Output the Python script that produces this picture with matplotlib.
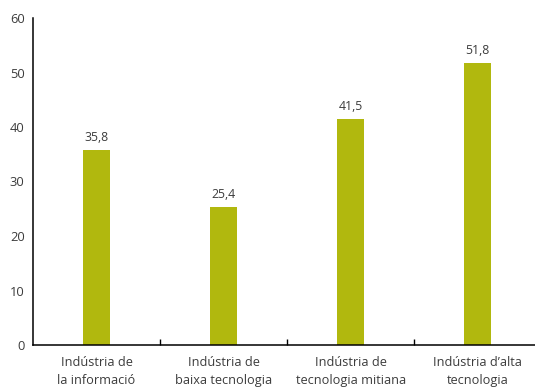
import matplotlib

matplotlib.use('Agg')
import matplotlib.pyplot as plt
import numpy as np

# percentages per industry group
categories = ['Indústria de\nla informació', 'Indústria de\nbaixa tecnologia',
              'Indústria de\ntecnologia mitiana', 'Indústria d\u2019alta\ntecnologia']
values = [35.8, 25.4, 41.5, 51.8]
y_ticks = [0, 10, 20, 30, 40, 50, 60]

bar_color = '#b1b80e'
text_color = '#3c3c3c'

plt.rcParams['font.family'] = ['Open Sans', 'DejaVu Sans']

fig = plt.figure(figsize=(5.35, 3.89), dpi=100)
ax = fig.add_axes([33 / 535, 44 / 389, 502 / 535, 327 / 389])

x = np.arange(len(categories))
ax.bar(x, values, width=0.21, color=bar_color, zorder=2)

# value labels above each bar
for xi, v in zip(x, values):
    ax.text(xi, v + 1.1, f'{v:.1f}'.replace('.', ','), ha='center', va='bottom',
            fontsize=8.8, color=text_color, family=['Liberation Sans Narrow', 'Open Sans'])

ax.set_xlim(-0.5, 3.45)
ax.set_ylim(0, 60)
ax.set_yticks(y_ticks)
ax.set_yticklabels([str(t) for t in y_ticks], fontsize=9.3, color=text_color)
ax.tick_params(axis='y', length=0, pad=6)

# category labels centred, separator ticks between groups
ax.set_xticks(x)
ax.set_xticklabels(categories, fontsize=9.2, color=text_color, linespacing=1.45)
ax.tick_params(axis='x', which='major', length=0, pad=8)
ax.set_xticks([0.5, 1.5, 2.5], minor=True)
ax.tick_params(axis='x', which='minor', direction='in', length=4.5, width=1, color='black')

for side in ['top', 'right']:
    ax.spines[side].set_visible(False)
for side in ['left', 'bottom']:
    ax.spines[side].set_linewidth(1.1)
    ax.spines[side].set_color('black')

fig.savefig('out.png', dpi=100)
